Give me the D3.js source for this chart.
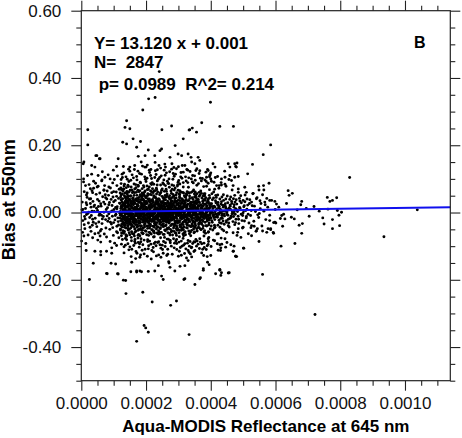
<!DOCTYPE html>
<html>
<head>
<meta charset="utf-8">
<script src="https://cdn.jsdelivr.net/npm/d3@7"></script>
<style>
  body { margin: 0; background: #fff; }
  svg text { font-family: "Liberation Sans", Arial, Helvetica, sans-serif; }
</style>
</head>
<body>
<svg id="chart" width="462" height="438"></svg>
<script>
// points: x in units of 1e-5 reflectance, y in units of 0.01 bias
var xUnit = 1e-5, yUnit = 0.01;

var cloudLeft = [
  [0.3,3.1],[0.5,-2.4],[0.9,6.2],[1.1,-4.8],[1.3,1.2],[1.6,-0.6],[1.8,4.5],[2.2,-3.1],[2.4,8.3],[2.6,-1.5],
  [2.8,2.7],[3.0,-5.6],[3.3,0.4],[3.5,5.9],[3.7,-2.9],[3.9,1.8],[0.4,-5.9],[0.7,9.1],[1.2,-1.9],[1.7,2.3],
  [2.1,-6.7],[2.9,4.1],[3.4,-3.8],[3.8,7.2],[0.2,0.8],[1.4,-9.2],[2.3,0.1],[3.1,-0.9],[3.6,3.3],[0.9,-3.6],
  [4.1,2.2],[4.3,-1.7],[4.6,5.4],[4.8,-4.2],[5.0,0.6],[5.2,7.8],[5.4,-2.8],[5.5,3.4],[5.7,-0.3],[5.9,-5.5],
  [6.1,1.9],[6.3,9.4],[6.4,-3.3],[6.6,4.7],[6.8,-1.2],[7.0,6.6],[7.1,-6.4],[7.3,2.5],[7.5,-2.1],[7.7,0.9],
  [7.9,4.0],[4.4,8.7],[5.1,-8.2],[6.2,-0.8],[6.9,3.1],[7.6,-4.6],[4.7,1.3],[5.3,-6.1],[6.5,12.1],[7.2,8.0],
  [8.1,1.4],[8.2,-2.6],[8.4,5.1],[8.5,-0.4],[8.7,3.0],[8.8,-5.0],[9.0,7.3],[9.1,0.2],[9.3,-3.4],[9.5,2.1],
  [9.6,-1.1],[9.8,4.6],[9.9,-6.8],[10.1,0.9],[10.2,9.8],[10.4,-2.2],[10.5,3.6],[10.7,-0.5],[10.8,6.1],[11.0,-4.1],
  [11.1,1.7],[11.3,-1.6],[11.5,4.2],[11.6,-7.5],[11.8,2.8],[11.9,-0.2],[8.3,11.2],[8.9,-8.6],[9.7,8.8],[10.3,-9.1],
  [11.2,10.9],[8.6,-1.8],[9.2,3.9],[10.0,-3.0],[10.6,1.5],[11.4,-2.7],[11.7,6.9],[8.0,6.4],[9.9,12.6],[10.9,-5.7],
  [1.3,8.0],[2.8,7.1],[4.9,7.6],[7.0,6.7],[8.5,7.6],[10.0,6.2],[1.8,5.8],[5.7,5.8],[11.0,8.0],[0.7,10.0],
  [3.8,9.3],[6.4,9.7],[8.9,10.0],
  [0.5,0.9],[1.0,-1.2],[1.5,2.9],[2.0,-0.3],[2.5,4.0],[3.0,1.6],[3.5,-2.0],[4.0,0.3],[4.5,-3.3],[5.0,3.9],
  [5.5,-0.8],[6.0,2.6],[6.5,-1.9],[7.0,0.1],[7.5,4.4],[8.0,-1.0],[8.5,2.3],[9.0,-2.9],[9.5,0.5],[10.0,3.2],
  [10.5,-0.9],[11.0,1.1],[11.5,-3.7],[12.0,5.8],[0.8,-7.0],[2.7,-4.4],[4.2,-6.3],[6.2,-5.0],[7.8,-7.3],[9.7,-4.5],
  [11.2,-6.0],[1.6,5.2],[3.3,6.5],[5.3,1.8],[7.4,5.3],[9.4,5.9],[10.9,4.8]
];

var cloudCore = [
  [12.1,0.3],[12.2,-2.4],[12.3,3.8],[12.4,-0.9],[12.5,1.6],[12.6,-4.3],[12.7,5.5],[12.8,-1.7],[12.9,2.4],[13.0,-3.1],
  [13.1,0.7],[13.2,7.9],[13.3,-5.6],[13.4,1.1],[13.5,-0.2],[13.6,4.4],[13.7,-2.8],[13.8,2.9],[13.9,-7.1],[14.0,0.5],
  [14.1,6.3],[14.2,-1.3],[14.3,3.2],[14.4,-3.9],[14.5,1.9],[14.6,-0.6],[14.7,9.2],[14.8,-5.0],[14.9,2.2],[15.0,-1.9],
  [15.1,4.8],[15.2,0.1],[15.3,-3.5],[15.4,3.0],[15.5,-8.4],[15.6,1.4],[15.7,-0.8],[15.8,5.9],[15.9,-2.5],
  [12.2,1.2],[12.4,6.8],[12.6,-1.0],[12.8,4.1],[13.0,-6.2],[13.2,2.0],[13.4,-2.2],[13.6,0.9],[13.8,-4.6],[14.0,3.6],
  [14.2,-0.1],[14.4,8.1],[14.6,-2.9],[14.8,1.0],[15.0,-6.6],[15.2,3.4],[15.4,-1.4],[15.6,6.7],[15.8,0.4],[12.1,-5.2],
  [12.5,-3.4],[12.9,0.0],[13.3,5.0],[13.7,-0.4],[14.1,-3.3],[14.5,4.9],[14.9,-0.3],[15.3,1.8],[15.7,-4.1],[12.3,9.8],
  [12.7,-8.0],[13.1,-1.1],[13.5,3.3],[13.9,1.6],[14.3,-1.8],[14.7,0.8],[15.1,-2.6],[15.5,2.6],[15.9,4.0],
  [12.0,2.7],[12.6,11.4],[13.2,-10.2],[13.8,10.6],[14.4,-9.3],[15.0,12.3],[15.6,-10.9],[12.4,-6.9],[13.0,7.0],[13.6,-7.7],
  [14.2,6.0],[14.8,-6.0],[15.4,7.6],[12.8,-2.0],[13.4,0.3],[14.0,-1.5],[14.6,2.8],[15.2,-0.7],[15.8,-1.2],[12.3,-0.5],
  [13.5,-3.8],[14.5,-4.7],[15.5,0.2],[14.9,3.9],[13.9,-2.1],
  [16.0,-0.4],[16.1,2.3],[16.2,-3.0],[16.3,5.1],[16.4,-1.2],[16.5,0.9],[16.6,-5.8],[16.7,3.7],[16.8,-0.1],[16.9,7.4],
  [17.0,-2.3],[17.1,1.5],[17.2,-4.4],[17.3,4.2],[17.4,0.3],[17.5,-7.6],[17.6,2.0],[17.7,-1.6],[17.8,6.2],[17.9,-3.2],
  [18.0,0.7],[18.1,3.1],[18.2,-0.8],[18.3,8.8],[18.4,-5.1],[18.5,1.3],[18.6,-2.0],[18.7,4.6],[18.8,-0.5],[18.9,2.6],
  [19.0,-6.3],[19.1,0.0],[19.2,5.6],[19.3,-1.9],[19.4,3.5],[19.5,-3.7],[19.6,1.8],[19.7,-0.9],[19.8,9.9],[19.9,-2.7],
  [16.0,4.4],[16.2,1.0],[16.4,-7.0],[16.6,2.7],[16.8,-3.6],[17.0,6.0],[17.2,0.4],[17.4,-1.0],[17.6,-5.3],[17.8,3.0],
  [18.0,-2.6],[18.2,5.3],[18.4,1.7],[18.6,-4.0],[18.8,7.1],[19.0,2.2],[19.2,-0.3],[19.4,-8.2],[19.6,4.8],[19.8,0.6],
  [16.1,-1.8],[16.5,-4.9],[16.9,1.1],[17.3,-0.6],[17.7,0.9],[18.1,-6.9],[18.5,3.9],[18.9,-1.3],[19.3,1.0],[19.7,6.4],
  [16.3,8.5],[16.7,-9.1],[17.1,10.7],[17.5,3.3],[17.9,-10.3],[18.3,-2.9],[18.7,0.2],[19.1,-4.6],[19.5,2.9],[19.9,-0.7],
  [16.4,12.8],[17.2,-12.1],[18.0,11.6],[18.8,-11.2],[19.6,13.5],[16.8,-13.7],[17.6,7.8],[18.4,-8.7],[19.2,8.0],[16.2,-2.2],
  [17.0,-0.2],[17.8,-1.4],[18.6,2.4],[19.4,0.1],[16.6,0.6],[17.4,2.1],[18.2,-3.9],[19.0,4.0],[19.8,-5.4],[16.9,-2.9],
  [18.9,5.2],[17.7,-6.5],[19.3,-2.4],
  [20.0,1.6],[20.1,-2.1],[20.2,4.9],[20.3,-0.3],[20.4,2.8],[20.5,-4.7],[20.6,0.5],[20.7,6.9],[20.8,-1.5],[20.9,3.4],
  [21.0,-3.3],[21.1,1.2],[21.2,-6.0],[21.3,5.4],[21.4,-0.7],[21.5,2.5],[21.6,-2.4],[21.7,8.3],[21.8,0.0],[21.9,-5.2],
  [22.0,3.9],[22.1,-1.0],[22.2,1.9],[22.3,-7.3],[22.4,4.5],[22.5,-0.4],[22.6,2.2],[22.7,-3.8],[22.8,6.5],[22.9,0.8],
  [23.0,-2.0],[23.1,3.0],[23.2,-4.9],[23.3,1.4],[23.4,-0.9],[23.5,9.4],[23.6,-1.7],[23.7,2.6],[23.8,-6.4],[23.9,0.3],
  [20.0,-5.6],[20.2,0.9],[20.4,-1.8],[20.6,5.1],[20.8,-3.9],[21.0,7.6],[21.2,0.2],[21.4,-4.0],[21.6,3.6],[21.8,-2.7],
  [22.0,-0.6],[22.2,5.9],[22.4,-5.5],[22.6,1.0],[22.8,-1.3],[23.0,4.3],[23.2,0.6],[23.4,-3.0],[23.6,6.1],[23.8,-0.2],
  [20.1,3.3],[20.5,-8.1],[20.9,0.1],[21.3,-1.2],[21.7,-0.3],[22.1,2.9],[22.5,-2.6],[22.9,-8.8],[23.3,3.7],[23.7,-4.4],
  [20.3,10.2],[20.7,-10.8],[21.1,11.9],[21.5,-9.4],[21.9,8.9],[22.3,-11.7],[22.7,10.4],[23.1,-9.9],[23.5,12.7],[23.9,-12.6],
  [20.4,14.1],[21.6,-13.8],[22.8,14.9],[20.8,-6.8],[21.4,6.4],[22.6,-6.1],[23.2,7.2],[20.2,-0.9],[21.0,2.0],[21.8,1.5],
  [22.4,-1.6],[23.6,0.7],[20.6,-2.8],[21.2,-2.2],[22.0,0.4],[22.8,2.4],[23.4,-1.4],[20.9,-0.5],[22.2,-4.1],[23.8,3.1],
  [24.0,-1.1],[24.1,2.4],[24.2,-3.4],[24.3,0.6],[24.4,5.7],[24.5,-0.5],[24.6,3.1],[24.7,-5.9],[24.8,1.7],[24.9,-2.0],
  [25.0,7.0],[25.1,-0.1],[25.2,2.9],[25.3,-4.2],[25.4,0.8],[25.5,-1.6],[25.6,4.3],[25.7,-7.4],[25.8,1.3],[25.9,-2.6],
  [26.0,3.8],[26.1,0.2],[26.2,-3.7],[26.3,6.3],[26.4,-0.6],[26.5,2.0],[26.6,-5.0],[26.7,0.9],[26.8,8.7],[26.9,-1.8],
  [27.0,2.7],[27.1,-3.1],[27.2,0.4],[27.3,5.0],[27.4,-6.7],[27.5,1.6],[27.6,-0.8],[27.7,3.5],[27.8,-2.3],[27.9,0.0],
  [24.0,4.0],[24.2,-6.3],[24.4,1.1],[24.6,-1.3],[24.8,6.6],[25.0,-3.6],[25.2,0.5],[25.4,-8.6],[25.6,2.3],[25.8,-0.4],
  [26.0,-5.4],[26.2,4.7],[26.4,1.9],[26.6,-2.1],[26.8,-0.2],[27.0,-4.5],[27.2,7.5],[27.4,2.1],[27.6,-1.5],[27.8,4.2],
  [24.1,-2.7],[24.5,8.2],[24.9,0.3],[25.3,3.3],[25.7,-0.9],[26.1,-1.4],[26.5,5.5],[26.9,-7.9],[27.3,-1.1],[27.7,0.7],
  [24.3,-9.6],[24.7,10.9],[25.1,-11.0],[25.5,9.7],[25.9,-10.1],[26.3,11.8],[26.7,-12.4],[27.1,10.0],[27.5,-9.0],[27.9,12.9],
  [24.6,-13.3],[25.8,14.4],[27.0,-14.6],[26.0,8.0],[24.4,-4.8],[25.6,-6.5],[26.8,3.0],[27.8,-5.7],[24.8,-0.7],[25.4,1.9],
  [26.2,-0.3],[27.2,-2.8],[24.2,1.5],[25.0,1.2],[26.4,-2.9],[27.6,1.1],[25.2,-1.9],[26.6,0.1],[27.4,4.1],[24.0,0.1],
  [28.0,1.9],[28.1,-2.2],[28.2,4.6],[28.3,-0.4],[28.4,2.6],[28.5,-4.6],[28.6,0.7],[28.7,6.7],[28.8,-1.4],[28.9,3.2],
  [29.0,-3.0],[29.1,1.0],[29.2,-6.2],[29.3,5.2],[29.4,-0.6],[29.5,2.3],[29.6,-2.5],[29.7,7.9],[29.8,0.1],[29.9,-5.0],
  [30.0,3.7],[30.1,-0.9],[30.2,1.8],[30.3,-7.2],[30.4,4.4],[30.5,-0.2],[30.6,2.1],[30.7,-3.6],[30.8,6.0],[30.9,0.6],
  [31.0,-1.9],[31.1,3.0],[31.2,-4.8],[31.3,1.3],[31.4,-0.7],[31.5,8.9],[31.6,-1.6],[31.7,2.5],[31.8,-6.0],[31.9,0.4],
  [28.0,-5.5],[28.2,0.8],[28.4,-1.7],[28.6,4.9],[28.8,-3.7],[29.0,7.3],[29.2,0.3],[29.4,-3.9],[29.6,3.4],[29.8,-2.8],
  [30.0,-0.5],[30.2,5.6],[30.4,-5.3],[30.6,1.1],[30.8,-1.2],[31.0,4.1],[31.2,0.5],[31.4,-2.9],[31.6,5.8],[31.8,-0.3],
  [28.1,3.4],[28.5,-7.8],[28.9,0.2],[29.3,-1.1],[29.7,-0.2],[30.1,2.8],[30.5,-2.4],[30.9,-8.5],[31.3,3.6],[31.7,-4.3],
  [28.3,9.9],[28.7,-10.5],[29.1,11.4],[29.5,-9.2],[29.9,9.0],[30.3,-11.5],[30.7,10.6],[31.1,-10.0],[31.5,12.0],[31.9,-12.2],
  [28.6,13.4],[30.0,-13.0],[31.2,14.0],[29.4,-6.8],[30.4,6.5],[31.6,-6.9],[28.2,-0.8],[29.0,1.6],[30.8,-4.2],[31.4,1.7],
  [28.8,2.0],[30.6,-1.6],[29.6,-4.4],[31.0,-0.8],
  [32.0,0.2],[32.1,-2.5],[32.2,3.6],[32.3,-0.8],[32.4,1.5],[32.5,-4.5],[32.6,5.3],[32.7,-1.6],[32.8,2.3],[32.9,-3.0],
  [33.0,0.6],[33.1,7.5],[33.2,-5.5],[33.3,1.0],[33.4,-0.1],[33.5,4.2],[33.6,-2.7],[33.7,2.8],[33.8,-6.9],[33.9,0.4],
  [34.0,6.0],[34.1,-1.2],[34.2,3.0],[34.3,-3.8],[34.4,1.8],[34.5,-0.5],[34.6,8.8],[34.7,-4.9],[34.8,2.0],[34.9,-1.8],
  [35.0,4.6],[35.1,0.0],[35.2,-3.4],[35.3,2.9],[35.4,-8.0],[35.5,1.3],[35.6,-0.7],[35.7,5.6],[35.8,-2.4],[35.9,3.8],
  [32.2,-6.6],[32.6,0.9],[33.0,-2.1],[33.4,5.8],[33.8,1.2],[34.2,-0.9],[34.6,-2.9],[35.0,-5.8],[35.4,3.5],[35.8,0.7],
  [32.4,9.4],[32.8,-9.1],[33.2,10.3],[33.6,-8.6],[34.0,-10.5],[34.4,11.0],[34.8,-11.6],[35.2,9.6],[35.6,-10.0],[32.0,-1.4],
  [32.5,2.0],[33.1,-0.4],[33.7,-4.1],[34.3,0.3],[34.9,1.4],[35.5,-1.5],[32.3,4.7],[33.5,-1.0],[34.5,3.9],[35.3,-0.2],
  [32.9,12.6],[34.1,-13.2],[35.7,13.0],[33.3,-11.9],[34.7,6.7],[32.7,-3.7],[35.1,-4.4],[33.9,2.4],[32.1,1.9],
  [36.0,-0.6],[36.1,2.1],[36.3,-3.2],[36.4,4.8],[36.6,0.3],[36.7,-1.7],[36.9,6.4],[37.0,-5.1],[37.2,1.5],[37.3,-0.2],
  [37.5,3.3],[37.6,-2.6],[37.8,0.8],[37.9,-7.0],[38.1,5.0],[38.2,-1.0],[38.4,2.5],[38.5,-3.9],[38.7,7.8],[38.8,0.1],
  [39.0,-2.2],[39.1,3.7],[39.3,-5.7],[39.4,1.2],[39.6,-0.8],[39.7,4.4],[39.9,-1.5],
  [36.2,8.6],[36.8,-8.8],[37.4,10.1],[38.0,-10.4],[38.6,9.2],[39.2,-9.5],[39.8,11.3],[36.5,-4.6],[37.1,5.7],[37.7,-4.0],
  [38.3,-0.5],[38.9,2.0],[39.5,-3.1],[36.0,1.0],[36.9,-1.2],[37.6,1.9],[38.4,-6.2],[39.2,0.5],[39.9,2.6],[36.4,-2.1],
  [37.2,-3.5],[38.0,3.9],[38.8,-1.9],[39.6,6.8],[36.6,12.4],[37.8,-12.8],[39.0,12.8],[36.3,3.2],[38.2,1.1],[39.4,-7.4]
];

// the solid black middle of the cloud
var cloudDense = [
  [12.05,-0.8],[12.15,4.6],[12.25,-3.9],[12.35,1.9],[12.45,-6.1],[12.55,3.1],[12.65,0.2],[12.75,-2.7],[12.85,6.4],[12.95,-1.3],
  [12.1,-4.9],[12.3,5.2],[12.5,-0.1],[12.7,2.2],[12.9,-5.4],[12.2,7.3],[12.6,-2.0],[12.8,0.9],[12.4,3.7],[12.0,-1.6],
  [13.05,2.8],[13.15,-1.9],[13.25,0.6],[13.35,-4.4],[13.45,5.8],[13.55,-0.7],[13.65,2.1],[13.75,-6.6],[13.85,3.9],[13.95,-2.4],
  [13.1,6.9],[13.3,-3.2],[13.5,1.4],[13.7,-0.3],[13.9,4.7],[13.2,-5.9],[13.4,2.6],[13.6,-1.5],[13.8,0.0],[13.0,-3.6],[13.35,8.4],
  [14.05,-2.6],[14.15,1.7],[14.25,-0.4],[14.35,4.3],[14.45,-5.2],[14.55,2.4],[14.65,-1.1],[14.75,6.1],[14.85,-3.4],[14.95,0.7],
  [14.1,-6.9],[14.3,3.0],[14.5,-2.2],[14.7,1.2],[14.9,-0.9],[14.2,5.5],[14.4,-4.0],[14.6,0.3],[14.8,3.6],[14.0,-1.8],[14.55,7.7],
  [15.05,0.9],[15.15,-3.1],[15.25,5.0],[15.35,-1.0],[15.45,2.0],[15.55,-5.7],[15.65,3.3],[15.75,-0.5],[15.85,1.5],[15.95,-2.9],
  [15.1,6.6],[15.3,-4.6],[15.5,0.5],[15.7,-1.9],[15.9,4.2],[15.2,-0.2],[15.4,2.9],[15.6,-3.8],[15.8,-6.3],[15.0,3.8],[15.45,-7.4],
  [16.05,-1.4],[16.15,3.4],[16.25,-4.2],[16.35,0.8],[16.45,5.9],[16.55,-2.5],[16.65,1.6],[16.75,-0.6],[16.85,4.0],[16.95,-5.5],
  [16.1,2.6],[16.3,-3.3],[16.5,7.0],[16.7,-1.0],[16.9,0.4],[16.2,-6.4],[16.4,3.0],[16.6,-2.0],[16.8,1.1],[16.0,6.2],[16.6,-8.0],
  [17.05,3.5],[17.15,-0.9],[17.25,2.4],[17.35,-3.6],[17.45,6.6],[17.55,-1.7],[17.65,0.2],[17.75,-5.0],[17.85,4.5],[17.95,-0.2],
  [17.1,-2.8],[17.3,1.8],[17.5,-6.8],[17.7,3.9],[17.9,-1.5],[17.2,5.1],[17.4,-4.1],[17.6,0.9],[17.8,-2.4],[17.0,1.2],[17.55,8.1],
  [18.05,-3.0],[18.15,1.2],[18.25,-1.1],[18.35,4.9],[18.45,-0.3],[18.55,2.8],[18.65,-6.0],[18.75,0.5],[18.85,3.7],[18.95,-2.2],
  [18.1,6.5],[18.3,-4.7],[18.5,-0.8],[18.7,2.0],[18.9,-5.3],[18.2,3.3],[18.4,-1.9],[18.6,0.1],[18.8,5.8],[18.0,-0.6],[18.45,-7.8],
  [19.05,1.5],[19.15,-2.9],[19.25,3.8],[19.35,-0.5],[19.45,6.0],[19.55,-4.3],[19.65,0.3],[19.75,2.5],[19.85,-1.6],[19.95,4.4],
  [19.1,-6.2],[19.3,2.1],[19.5,-0.9],[19.7,-3.3],[19.9,1.0],[19.2,-1.4],[19.4,5.2],[19.6,-2.5],[19.8,3.2],[19.0,0.6],[19.35,7.6],
  [20.05,-0.7],[20.15,2.6],[20.25,-4.0],[20.35,1.1],[20.45,-1.9],[20.55,5.6],[20.65,-2.9],[20.75,0.4],[20.85,3.6],[20.95,-5.9],
  [20.1,0.9],[20.3,-2.3],[20.5,4.1],[20.7,-0.4],[20.9,2.0],[20.2,-6.6],[20.4,6.8],[20.6,-1.2],[20.8,1.6],[20.0,3.1],[20.5,-8.6],
  [21.05,4.0],[21.15,-1.6],[21.25,0.9],[21.35,-3.5],[21.45,2.2],[21.55,-0.1],[21.65,5.3],[21.75,-5.1],[21.85,1.8],[21.95,-2.0],
  [21.1,-4.6],[21.3,3.0],[21.5,-1.0],[21.7,6.2],[21.9,0.2],[21.2,-0.7],[21.4,1.5],[21.6,-6.4],[21.8,3.5],[21.0,-2.6],[21.45,8.6],
  [22.05,-2.3],[22.15,0.5],[22.25,3.3],[22.35,-1.4],[22.45,6.4],[22.55,-4.4],[22.65,1.7],[22.75,-0.2],[22.85,4.6],[22.95,-3.0],
  [22.1,2.1],[22.3,-5.7],[22.5,0.0],[22.7,-1.9],[22.9,2.8],[22.2,-0.9],[22.4,5.0],[22.6,-3.2],[22.8,0.9],[22.0,7.1],[22.55,-7.2],
  [23.05,1.3],[23.15,-3.6],[23.25,5.5],[23.35,-0.8],[23.45,2.4],[23.55,-2.1],[23.65,0.1],[23.75,4.0],[23.85,-5.4],[23.95,1.9],
  [23.1,-1.1],[23.3,6.8],[23.5,-4.2],[23.7,1.0],[23.9,-0.4],[23.2,3.4],[23.4,-6.1],[23.6,2.9],[23.8,-2.4],[23.0,0.6],[23.45,8.2],
  [24.05,-0.3],[24.15,3.7],[24.25,-2.2],[24.35,1.4],[24.45,-4.5],[24.55,6.0],[24.65,-1.2],[24.75,2.5],[24.85,-0.6],[24.95,4.8],
  [24.1,-5.8],[24.3,0.8],[24.5,-2.9],[24.7,3.2],[24.9,-1.7],[24.2,5.3],[24.4,-0.1],[24.6,1.9],[24.8,-3.8],[24.0,2.2],[24.5,-7.5],
  [25.05,2.0],[25.15,-1.3],[25.25,4.4],[25.35,-3.3],[25.45,0.4],[25.55,-0.9],[25.65,6.3],[25.75,-5.2],[25.85,2.8],[25.95,-2.0],
  [25.1,1.2],[25.3,-6.5],[25.5,3.8],[25.7,-0.2],[25.9,5.1],[25.2,-2.6],[25.4,0.9],[25.6,-4.0],[25.8,1.6],[25.0,-0.5],[25.45,8.4],
  [26.05,-3.9],[26.15,0.7],[26.25,2.7],[26.35,-1.8],[26.45,5.0],[26.55,-0.4],[26.65,3.4],[26.75,-6.0],[26.85,1.4],[26.95,-2.8],
  [26.1,4.6],[26.3,-0.9],[26.5,-4.7],[26.7,2.0],[26.9,0.3],[26.2,6.9],[26.4,-2.4],[26.6,1.0],[26.8,-1.3],[26.0,2.5],[26.5,-7.9],
  [27.05,0.8],[27.15,-2.5],[27.25,4.1],[27.35,-0.2],[27.45,1.9],[27.55,-5.0],[27.65,3.0],[27.75,-1.6],[27.85,5.7],[27.95,-3.5],
  [27.1,-0.8],[27.3,2.3],[27.5,-2.1],[27.7,6.4],[27.9,-0.4],[27.2,-6.2],[27.4,1.2],[27.6,-3.9],[27.8,2.6],[27.0,4.5],[27.45,-8.3],
  [28.05,-1.9],[28.15,1.6],[28.25,-3.5],[28.35,5.4],[28.45,-0.1],[28.55,2.9],[28.65,-5.6],[28.75,0.6],[28.85,4.2],[28.95,-2.6],
  [28.1,6.9],[28.3,-1.2],[28.5,0.9],[28.7,-4.1],[28.9,3.6],[28.2,-6.7],[28.4,2.2],[28.6,-2.0],[28.8,0.0],[28.0,-0.7],[28.55,8.0],
  [29.05,3.3],[29.15,-0.6],[29.25,1.4],[29.35,-4.8],[29.45,5.9],[29.55,-1.8],[29.65,0.5],[29.75,-3.1],[29.85,2.5],[29.95,-0.9],
  [29.1,-6.1],[29.3,4.3],[29.5,-2.7],[29.7,1.1],[29.9,6.6],[29.2,-1.5],[29.4,2.8],[29.6,-5.3],[29.8,0.8],[29.0,-3.3],[29.45,-8.0],
  [30.05,-2.4],[30.15,2.0],[30.25,-0.5],[30.35,4.7],[30.45,-3.8],[30.55,0.9],[30.65,6.2],[30.75,-1.4],[30.85,2.7],[30.95,-5.3],
  [30.1,0.1],[30.3,-2.9],[30.5,3.5],[30.7,-0.6],[30.9,1.5],[30.2,-6.0],[30.4,5.3],[30.6,-4.3],[30.8,-0.1],[30.0,1.2],[30.45,8.5],
  [31.05,1.0],[31.15,-3.4],[31.25,3.9],[31.35,-1.3],[31.45,0.2],[31.55,-5.1],[31.65,2.2],[31.75,-0.3],[31.85,5.0],[31.95,-2.3],
  [31.1,-1.7],[31.3,6.0],[31.5,-3.6],[31.7,1.6],[31.9,-0.9],[31.2,2.9],[31.4,-6.4],[31.6,0.4],[31.8,3.3],[31.0,-4.5],[31.45,-7.7],
  [32.05,-0.9],[32.15,2.9],[32.25,-2.9],[32.35,0.5],[32.45,5.6],[32.55,-1.4],[32.65,1.7],[32.75,-4.6],[32.85,3.4],[32.95,-0.2],
  [32.1,-5.7],[32.3,2.1],[32.5,-2.2],[32.7,6.2],[32.9,0.8],[32.2,-1.1],[32.4,3.9],[32.6,-3.5],[32.8,-0.6],[32.0,4.6],
  [33.05,2.5],[33.15,-1.9],[33.25,0.2],[33.35,-3.9],[33.45,4.9],[33.55,-0.7],[33.65,1.9],[33.75,-5.8],[33.85,3.1],[33.95,-1.5],
  [33.1,5.9],[33.3,-2.6],[33.5,1.1],[33.7,-0.1],[33.9,-4.2],[33.2,3.6],[33.4,-6.3],[33.6,0.6],[33.8,2.3],[33.0,-0.9],
  [34.05,-2.1],[34.15,0.8],[34.25,4.4],[34.35,-1.6],[34.45,2.2],[34.55,-4.1],[34.65,0.0],[34.75,3.2],[34.85,-0.8],[34.95,5.5],
  [34.1,-5.3],[34.3,1.4],[34.5,-2.5],[34.7,-0.3],[34.9,2.8],[34.2,-3.4],[34.4,6.3],[34.6,1.0],[34.8,-6.0],[34.0,0.5],
  [35.05,1.8],[35.15,-2.8],[35.25,0.6],[35.35,5.0],[35.45,-1.2],[35.55,2.6],[35.65,-4.8],[35.75,0.9],[35.85,-1.9],[35.95,3.0],
  [35.1,-0.4],[35.3,-3.9],[35.5,4.4],[35.7,-0.9],[35.9,1.6],[35.2,6.1],[35.4,-2.3],[35.6,0.3],[35.8,-5.5],[35.0,2.1],
  [36.05,-1.3],[36.15,3.9],[36.25,-3.6],[36.35,0.4],[36.45,1.9],[36.55,-0.5],[36.65,5.2],[36.75,-2.4],[36.85,2.3],[36.95,-5.0],
  [36.1,0.8],[36.3,-1.9],[36.5,3.0],[36.7,-0.1],[36.9,1.2],[36.2,-4.4],[36.4,6.0],[36.6,-2.8],
  [37.05,2.2],[37.15,-0.7],[37.25,4.3],[37.35,-2.2],[37.45,0.1],[37.55,-4.7],[37.65,2.7],[37.75,-0.9],[37.85,5.5],[37.95,-1.8],
  [37.1,-3.1],[37.3,1.3],[37.5,-1.4],[37.7,3.6],[37.9,-5.8],[37.2,0.5],[37.4,-0.3],[37.6,4.9],
  [38.05,-0.4],[38.15,2.4],[38.25,-2.9],[38.35,1.0],[38.45,4.4],[38.55,-1.5],[38.65,0.3],[38.75,-4.0],[38.85,3.0],[38.95,-0.8],
  [38.1,-5.4],[38.3,3.6],[38.5,-0.2],[38.7,1.7],[38.9,-2.5],[38.2,5.6],[38.4,-1.2],[38.6,0.9],
  [39.05,1.1],[39.15,-1.8],[39.25,3.2],[39.35,-3.7],[39.45,0.6],[39.55,5.1],[39.65,-0.6],[39.75,2.0],[39.85,-4.9],[39.95,0.0],
  [39.1,-1.0],[39.3,4.1],[39.5,-2.2],[39.7,1.4],[39.9,-0.3],[39.2,-5.9],[39.4,2.7],[39.6,-1.6],
  [40.05,-0.2],[40.25,2.6],[40.45,-2.9],[40.65,1.2],[40.85,4.3],[40.15,-4.0],[40.55,0.0],[40.95,-1.5],[40.35,5.6],[40.75,-0.9],
  [41.05,1.9],[41.25,-2.1],[41.45,3.5],[41.65,-0.5],[41.85,0.9],[41.15,-3.8],[41.55,5.1],[41.95,-1.1],[41.35,0.2],[41.75,2.9],
  [42.05,-1.4],[42.25,3.0],[42.45,-0.6],[42.65,1.7],[42.85,-4.4],[42.15,5.2],[42.55,-2.3],[42.95,0.4],[42.35,2.1],[42.75,-0.1],
  [43.05,0.8],[43.25,-3.2],[43.45,4.6],[43.65,-0.8],[43.85,1.6],[43.15,2.5],[43.55,-1.7],[43.95,3.6],[43.35,-0.3],
  [44.05,2.1],[44.25,-1.0],[44.45,0.5],[44.65,4.0],[44.85,-2.4],[44.15,-3.5],[44.55,1.8],[44.95,0.0],
  [45.05,-0.6],[45.25,2.9],[45.45,-2.0],[45.65,1.3],[45.85,3.9],[45.15,0.6],[45.55,-3.1],[45.95,2.2],
  [46.05,1.0],[46.25,-1.5],[46.45,3.3],[46.65,0.2],[46.85,-2.7],[46.15,4.6],[46.55,-0.4],
  [47.05,-1.2],[47.25,2.3],[47.45,0.7],[47.65,-3.0],[47.85,3.8],[47.15,1.6],[47.55,-0.5],
  [48.05,2.5],[48.45,-1.1],[48.85,4.2],[48.25,0.3],[48.65,-3.3],
  [49.05,1.3],[49.45,2.9],[49.85,-0.9],[49.25,5.0],[49.65,-2.4],
  [50.15,0.5],[50.55,3.2],[50.95,-1.6],[50.35,2.0],
  [51.15,1.0],[51.55,-0.5],[51.95,2.7],
  [52.05,3.8],[52.5,0.6],[53.5,1.9],[54.5,-0.7],[55.2,3.5]
];

// thinner ring above and below the black middle
var cloudFringe = [
  [12.3,8.6],[13.1,11.8],[13.9,7.4],[14.6,12.9],[15.3,9.6],[16.1,10.3],[16.8,8.3],[17.5,12.3],[18.2,9.0],[18.9,13.8],
  [19.6,10.6],[20.3,7.9],[21.0,12.6],[21.7,10.1],[22.4,8.4],[23.1,11.3],[23.8,9.9],[24.5,13.2],[25.2,8.8],[25.9,11.1],
  [26.6,9.3],[27.3,12.1],[28.0,8.2],[28.7,10.8],[29.4,13.0],[30.1,9.5],[30.8,11.9],[31.5,7.6],[32.2,10.6],[32.9,8.9],
  [33.6,12.2],[34.3,9.1],[35.0,10.9],[35.7,8.1],[36.4,11.6],[37.1,9.4],[37.8,7.7],[38.5,12.0],[39.2,8.7],[40.0,11.8],
  [41.0,9.0],[42.1,10.7],[43.2,8.9],[44.3,12.3],
  [12.7,10.4],[14.2,9.9],[15.7,11.2],[17.2,9.7],[18.6,11.4],[20.0,9.2],[21.4,11.0],[22.9,12.4],[24.2,10.4],[25.6,12.6],
  [27.0,8.6],[28.4,11.6],[29.8,8.3],[31.1,10.2],[32.6,12.8],[34.0,10.0],[35.4,12.5],[36.8,10.2],[38.2,9.7],[39.6,10.6],
  [12.4,-9.4],[13.2,-12.0],[14.0,-8.1],[14.7,-11.1],[15.4,-13.1],[16.2,-9.8],[16.9,-11.6],[17.6,-8.9],[18.3,-12.6],[19.0,-9.6],
  [19.7,-10.9],[20.4,-13.0],[21.1,-8.5],[21.8,-11.3],[22.5,-9.2],[23.2,-12.9],[23.9,-8.7],[24.6,-10.6],[25.3,-12.1],[26.0,-9.0],
  [26.7,-10.9],[27.4,-8.4],[28.1,-12.4],[28.8,-9.1],[29.5,-11.0],[30.2,-8.8],[30.9,-12.7],[31.6,-9.7],[32.3,-10.8],[33.0,-8.3],
  [33.7,-12.3],[34.4,-9.2],[35.1,-11.3],[35.8,-8.5],[36.5,-10.7],[37.2,-12.0],[37.9,-9.1],[38.6,-11.0],[39.3,-8.6],[40.1,-10.1],
  [41.2,-8.4],[42.3,-11.2],[43.4,-9.4],[44.6,-10.3],
  [13.6,-9.7],[15.0,-10.2],[16.5,-8.6],[18.0,-9.3],[19.4,-12.3],[20.8,-9.9],[22.2,-10.4],[23.6,-8.9],[25.0,-9.7],[26.4,-12.8],
  [27.8,-10.0],[29.2,-8.5],[30.6,-10.4],[32.0,-9.3],[33.4,-10.0],[34.8,-8.7],[36.1,-9.4],[37.5,-10.9],[38.9,-9.9]
];

var cloudRight = [
  [40.1,0.5],[40.3,-2.4],[40.5,3.8],[40.7,-0.9],[40.9,6.1],[41.1,-4.6],[41.3,1.6],[41.5,-1.3],[41.7,4.5],[41.9,-6.4],
  [42.1,2.3],[42.3,-0.3],[42.5,7.2],[42.7,-3.0],[42.9,1.0],[43.1,-1.8],[43.3,3.2],[43.5,-5.0],[43.7,0.4],[43.9,5.3],
  [40.2,9.3],[40.8,-8.2],[41.4,10.4],[42.0,-9.3],[42.6,8.0],[43.2,-7.6],[43.8,-2.5],[40.4,1.8],[41.0,-0.6],[41.6,2.9],
  [42.2,-3.8],[42.8,4.0],[43.4,-0.9],[40.6,-5.2],[41.8,0.8],[43.0,-11.3],[40.0,-1.7],[41.2,6.9],[42.4,1.4],[43.6,2.2],
  [44.2,-0.4],[44.5,2.6],[44.8,-2.9],[45.1,4.9],[45.4,0.9],[45.7,-4.3],[46.0,1.9],[46.3,-1.1],[46.6,6.7],[46.9,-6.0],
  [47.2,0.2],[47.5,3.1],[47.8,-2.0],[44.4,8.4],[45.0,-8.9],[45.6,9.8],[46.2,-9.6],[46.8,-0.3],[47.4,-3.6],[44.7,1.3],
  [45.9,-1.8],[47.0,4.1],[44.0,-5.4],[45.3,-0.8],[46.5,2.7],[47.7,1.1],
  [48.2,0.8],[48.6,-2.0],[49.0,3.4],[49.4,-0.5],[49.8,-4.6],[50.2,1.7],[50.6,5.2],[51.0,-1.2],[51.4,2.2],[51.8,-3.1],
  [48.5,7.0],[49.3,-7.4],[50.0,-0.1],[50.8,0.6],[51.6,-6.3],[48.9,1.5],[50.4,-2.5],[51.2,4.0],
  [52.3,-0.9],[52.8,2.0],[53.3,-2.6],[53.8,0.3],[54.3,4.4],[54.8,-1.5],[55.3,1.1],[55.8,-4.0],[53.0,5.6],[54.0,-5.6],
  [55.0,-0.3],[52.6,-6.9],[55.5,2.7],
  [56.4,0.4],[57.0,-2.1],[57.6,1.6],[58.2,-0.8],[58.8,3.6],[59.4,-3.0],[59.9,0.9],[57.3,4.2],[58.5,-4.8],[56.8,2.3],
  [60.3,2.5],[61.0,1.6],[61.5,-1.8],[62.5,-0.5],[63.4,2.7],[65.8,-1.9],[66.7,0.8],[69.5,1.2],[70.4,-1.1],[73.5,0.4],
  [74.6,-1.6],[76.2,1.0],[79.6,-0.8],
  [50.5,7.5],[51.0,6.0],[48.5,6.0],[47.4,5.1],[50.0,3.6],[52.6,3.1],[56.7,3.1],[58.2,3.6],[59.8,3.3],
  [56.4,6.7],[54.8,7.8],[56.0,5.3],[53.1,5.7],[54.1,4.1],[43.3,8.2],[44.7,7.8],[41.8,8.0],[46.9,8.0],
  [56.0,-5.5],[57.3,-5.9],[54.4,-4.8],[52.4,-4.5],[53.4,-4.1],[39.2,-7.8],[36.6,-7.8],[35.1,-8.8],[34.1,-10.3],
  [33.0,-11.3],[37.2,-9.3],[44.4,-7.8],[44.9,-5.9],[42.3,-6.3],[41.3,-4.4],[45.4,-3.9],[48.5,-4.8],[50.0,-4.4],
  [52.6,-3.9],[54.1,-5.4],[57.7,-4.8],[59.3,-5.9],[59.8,-2.9],[58.2,-2.4],[61.9,-0.9],[62.9,-1.9],[64.9,-1.4]
];

var outliersHigh = [
  [24.1,41.9],[20.8,33.8],[22.8,34.2],[19.0,30.5],[39.9,32.8],[14.0,27.3],[13.5,25.3],[15.0,24.9],[2.0,24.6],
  [24.9,24.6],[27.9,25.7],[33.3,24.5],[33.5,24.6],[34.3,25.1],[37.2,26.7],[35.6,23.9],[42.8,25.6],[47.0,25.6],
  [16.0,21.9],[12.8,20.9],[14.0,20.4],[18.3,21.1],[31.5,21.9],[2.0,20.1],[29.0,19.9],[20.7,18.6],[17.1,19.4],
  [24.8,18.9],[24.3,18.4],[58.5,20.1],[56.2,17.2],[4.5,16.9],[4.8,16.9],[5.6,16.0],[5.8,16.0],[11.4,16.0],
  [17.6,16.7],[19.7,16.9],[22.7,16.9],[27.4,16.4],[29.9,17.4],[31.0,16.9],[33.0,17.4],[33.9,16.4],[36.1,16.4],
  [36.6,15.5],[35.1,14.5],[34.1,15.0],[0.6,14.5],[0.8,15.0],[3.2,14.0],[4.2,13.5],[10.9,13.7],[13.0,13.7],
  [15.0,13.5],[16.5,14.0],[18.5,15.0],[20.0,13.5],[21.5,12.8],[24.0,14.0],[26.0,13.5],[28.0,14.5],[30.0,13.6],
  [32.0,14.0],[52.9,14.3],[48.1,14.7],[47.7,13.7],[45.4,14.5],[47.4,14.5],[47.9,13.5],[45.9,13.5],[41.3,13.5],
  [40.7,14.5],[1.9,11.0],[3.2,11.4],[5.2,11.0],[7.3,10.5],[51.4,11.5],[44.4,10.5],[45.9,11.0],[47.4,10.5],
  [48.5,10.7],[46.4,9.5],[43.3,10.0],[39.2,12.5],[39.7,11.0],[40.0,10.0],[38.7,10.5],[58.0,8.7],[56.3,8.0],
  [54.9,6.7],[63.9,6.5],[65.2,5.7],[64.2,5.1],[68.1,3.3],[67.8,2.3],[76.0,4.5],[77.6,3.6],[78.9,4.4],[76.8,3.3],
  [82.9,10.4],[71.9,1.8],[79.1,0.6],[80.4,0.1],[103.8,0.8]
];

var outliersLow = [
  [17.1,-38.3],[19.4,-33.6],[19.9,-34.3],[20.7,-35.6],[33.3,-36.3],[72.2,-30.3],[13.8,-24.1],[19.0,-23.7],
  [21.9,-26.6],[27.6,-27.6],[29.4,-26.3],[35.1,-21.4],[36.8,-19.4],[2.5,-19.9],[13.0,-20.1],[13.7,-20.2],
  [25.3,-19.9],[31.7,-19.9],[32.0,-19.7],[36.6,-19.7],[24.8,-18.9],[7.8,-18.1],[8.0,-18.2],[11.2,-18.2],
  [11.4,-18.3],[43.1,-18.7],[41.5,-18.2],[45.4,-18.0],[56.0,-18.4],[43.3,-17.9],[45.7,-17.9],[17.1,-17.7],
  [15.3,-17.6],[17.1,-17.4],[18.1,-17.4],[18.6,-17.6],[20.7,-17.5],[22.7,-17.4],[28.9,-17.4],[42.8,-17.2],
  [37.7,-17.2],[42.8,-16.9],[37.7,-16.7],[27.4,-16.3],[30.5,-16.0],[32.0,-15.8],[23.8,-15.8],[39.5,-15.5],
  [10.6,-15.3],[9.2,-15.1],[3.7,-15.1],[27.1,-15.0],[15.6,-14.8],[39.0,-14.8],[33.0,-14.3],[32.5,-13.5],
  [18.1,-13.3],[38.9,-13.1],[48.0,-13.1],[47.7,-13.0],[40.0,-12.8],[6.0,-12.6],[9.4,-12.1],[4.2,-11.5],
  [6.0,-11.6],[7.8,-11.5],[1.5,-11.3],[46.9,-11.5],[47.0,-11.5],[50.1,-10.6],[50.2,-10.6],[9.4,-10.5],
  [43.1,-10.5],[47.2,-10.0],[61.7,-10.0],[10.9,-9.8],[42.8,-9.6],[66.0,-9.2],[6.0,-8.8],[54.9,-8.6],
  [0.1,-8.5],[3.5,-7.5],[93.5,-7.2],[5.8,-7.0],[48.1,-6.8],[68.1,-6.2],[59.4,-6.2],[48.3,-5.9],[58.5,-5.1],
  [77.6,-4.8],[62.2,-4.1],[79.8,-3.9],[67.3,-3.8],[75.0,-3.4],[68.3,-3.3],[60.1,-3.1],[77.6,-2.1],[47.7,-13.0]
];

// fitted line printed on the chart
var slope = 13.120, intercept = 0.001;
var statLines = ["Y= 13.120 x + 0.001", "N=  2847", " p= 0.0989  R^2= 0.214"];
var panelLabel = "B";

var xMajor = [0, 0.0002, 0.0004, 0.0006, 0.0008, 0.0010];
var yMajor = [-0.4, -0.2, 0.0, 0.2, 0.4, 0.6];
var xTitle = "Aqua-MODIS Reflectance at 645 nm";
var yTitle = "Bias at 550nm";

var svg = d3.select("#chart");
var plotL = 81.3, plotR = 450.3, plotT = 10.7, plotB = 380.7;

var x = d3.scaleLinear().domain([0, 0.00114]).range([plotL, plotR]);
var y = d3.scaleLinear().domain([-0.5, 0.6]).range([plotB, plotT]);

var xMinor = d3.range(0, 0.00114, 0.00005).filter(function(v){ return Math.abs(Math.round(v/0.0002)*0.0002 - v) > 1e-9; });
var yMinor = d3.range(-0.5, 0.6, 0.05).filter(function(v){ return Math.abs(Math.round(v/0.2)*0.2 - v) > 1e-6; });

function styleAxis(g){
  g.select(".domain").remove();
  g.selectAll("line").attr("stroke", "#222").attr("stroke-width", 1.1);
  g.selectAll("text").attr("fill", "#111").style("font-size", "17px");
}

// bottom / top
svg.append("g").attr("transform", "translate(0," + plotB + ")")
  .call(d3.axisBottom(x).tickValues(xMajor).tickSize(10).tickPadding(6.5).tickSizeOuter(0)
    .tickFormat(function(d){ return d.toFixed(4); }))
  .call(styleAxis);
svg.append("g").attr("transform", "translate(0," + plotB + ")")
  .call(d3.axisBottom(x).tickValues(xMinor).tickSize(5).tickFormat("").tickSizeOuter(0)).call(styleAxis);
svg.append("g").attr("transform", "translate(0," + plotT + ")")
  .call(d3.axisTop(x).tickValues(xMajor).tickSize(10).tickFormat("").tickSizeOuter(0)).call(styleAxis);
svg.append("g").attr("transform", "translate(0," + plotT + ")")
  .call(d3.axisTop(x).tickValues(xMinor).tickSize(5).tickFormat("").tickSizeOuter(0)).call(styleAxis);

// left / right
svg.append("g").attr("transform", "translate(" + plotL + ",0)")
  .call(d3.axisLeft(y).tickValues(yMajor).tickSize(10).tickPadding(10).tickSizeOuter(0)
    .tickFormat(function(d){ return d.toFixed(2); }))
  .call(styleAxis);
svg.append("g").attr("transform", "translate(" + plotL + ",0)")
  .call(d3.axisLeft(y).tickValues(yMinor).tickSize(5).tickFormat("").tickSizeOuter(0)).call(styleAxis);
svg.append("g").attr("transform", "translate(" + plotR + ",0)")
  .call(d3.axisRight(y).tickValues(yMajor).tickSize(10).tickFormat("").tickSizeOuter(0)).call(styleAxis);
svg.append("g").attr("transform", "translate(" + plotR + ",0)")
  .call(d3.axisRight(y).tickValues(yMinor).tickSize(5).tickFormat("").tickSizeOuter(0)).call(styleAxis);

// points
var allPoints = cloudLeft.concat(cloudCore, cloudDense, cloudFringe, cloudRight, outliersHigh, outliersLow);
svg.append("g").selectAll("circle").data(allPoints).join("circle")
  .attr("cx", function(d){ return x(d[0] * xUnit); })
  .attr("cy", function(d){ return y(d[1] * yUnit); })
  .attr("r", 1.45)
  .attr("fill", "#000");

// regression line
var xEnds = x.domain();
svg.append("line")
  .attr("x1", x(xEnds[0])).attr("y1", y(slope * xEnds[0] + intercept))
  .attr("x2", x(xEnds[1])).attr("y2", y(slope * xEnds[1] + intercept))
  .attr("stroke", "#1010ee").attr("stroke-width", 2);

// frame
svg.append("rect").attr("x", plotL).attr("y", plotT)
  .attr("width", plotR - plotL).attr("height", plotB - plotT)
  .attr("fill", "none").attr("stroke", "#222").attr("stroke-width", 1.2);

// annotations
var statY = [49, 68, 90];
svg.selectAll(".stat").data(statLines).join("text").attr("class", "stat")
  .attr("x", 94).attr("y", function(d, i){ return statY[i]; })
  .attr("xml:space", "preserve").style("white-space", "pre")
  .style("font-size", "17px").style("font-weight", "bold").text(function(d){ return d; });
svg.append("text").attr("x", 414).attr("y", 48)
  .style("font-size", "16px").style("font-weight", "bold").text(panelLabel);

// titles
svg.append("text").attr("x", (plotL + plotR) / 2).attr("y", 432).attr("text-anchor", "middle")
  .style("font-size", "17px").style("font-weight", "bold").text(xTitle);
svg.append("text").attr("transform", "translate(15," + ((plotT + plotB) / 2 + 4) + ") rotate(-90)")
  .attr("text-anchor", "middle").style("font-size", "18px").style("font-weight", "bold").text(yTitle);
</script>
</body>
</html>
